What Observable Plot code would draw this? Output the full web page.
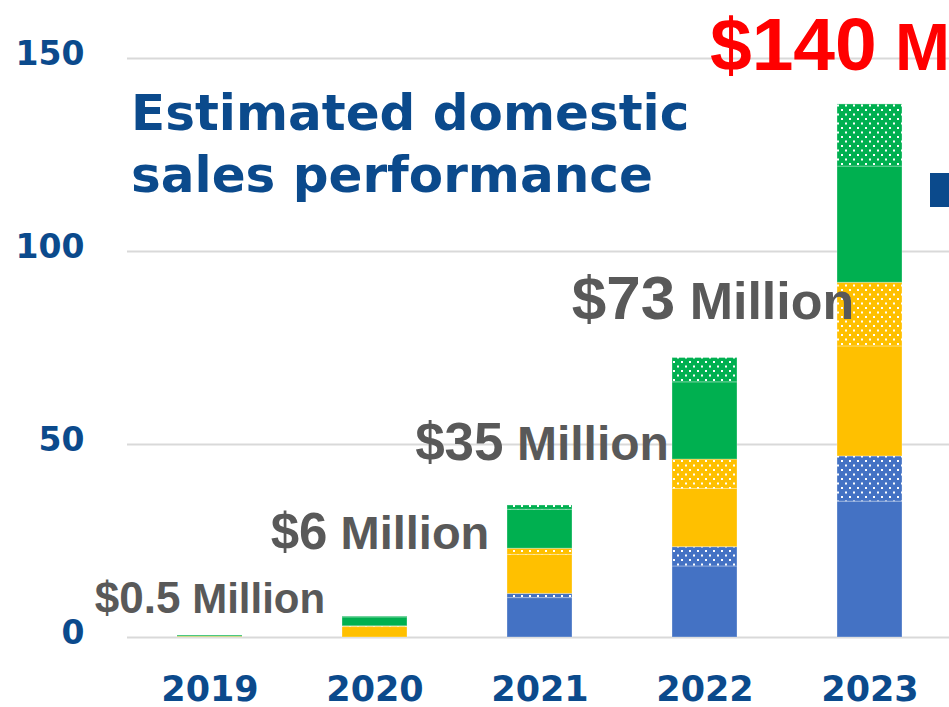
<!DOCTYPE html>
<html>
<head>
<meta charset="utf-8">
<script src="https://cdn.jsdelivr.net/npm/d3@7"></script>
<script src="https://cdn.jsdelivr.net/npm/@observablehq/plot@0.6"></script>
<style>
  html, body { margin: 0; padding: 0; background: #fff; overflow: hidden; }
  #wrap { position: relative; width: 949px; height: 707px; overflow: hidden; }
  #title { position: absolute; left: 131px; top: 82px; font-family: "DejaVu Sans", sans-serif; font-weight: bold; font-size: 50px; line-height: 62px; color: #0b4a8c; white-space: nowrap; pointer-events: none; }
  #marker { position: absolute; left: 930px; top: 173px; width: 24px; height: 34px; background: #0b4a8c; }
</style>
</head>
<body>
<div id="wrap">
  <div id="chart"></div>
  <div id="title">Estimated domestic<br>sales performance</div>
  <div id="marker"></div>
</div>
<script>
// ---- data ----
const years = ["2019", "2020", "2021", "2022", "2023"];
const blueSolid    = [0,   0,   10.2, 18.4, 35.2];
const blueDotted   = [0,   0,   1.1,  5.0,  11.7];
const yellowSolid  = [0.2, 2.7, 10.1, 15.1, 28.5];
const yellowDotted = [0,   0.2, 1.6,  7.6,  16.5];
const greenSolid   = [0.3, 2.3, 10.1, 20.0, 30.1];
const greenDotted  = [0,   0.2, 1.1,  6.3,  16.1];
const amounts = ["$0.5", "$6", "$35", "$73", "$140"];
const unitLabel = "Million";
const yTicks = [0, 50, 100, 150];

// ---- build table ----
const series = [
  {name: "blueSolid", values: blueSolid},
  {name: "blueDotted", values: blueDotted},
  {name: "yellowSolid", values: yellowSolid},
  {name: "yellowDotted", values: yellowDotted},
  {name: "greenSolid", values: greenSolid},
  {name: "greenDotted", values: greenDotted}
];
const rows = years.flatMap((y, i) => series.map(s => ({year: y, seg: s.name, value: s.values[i]})));
const totals = years.map((y, i) => ({year: y, total: d3.sum(series, s => s.values[i]), text: amounts[i] + " " + unitLabel}));

const fills = ["#4472c4", "url(#dotBlue)", "#ffc000", "url(#dotYellow)", "#00b050", "url(#dotGreen)"];

const chart = Plot.plot({
  width: 949,
  height: 707,
  marginLeft: 127,
  marginRight: 0,
  marginTop: 58,
  marginBottom: 70,
  style: {fontFamily: "DejaVu Sans, sans-serif", color: "#0b4a8c", background: "white"},
  x: {domain: years, range: [127.5, 952.5], paddingInner: 0.606, paddingOuter: 0.303},
  y: {domain: [0, 150], range: [637, 58]},
  color: {domain: series.map(s => s.name), range: fills},
  marks: [
    Plot.ruleY(yTicks, {stroke: "#d9d9d9", strokeWidth: 2}),
    Plot.barY(rows, {x: "year", y: "value", fill: "seg", stroke: "white", strokeOpacity: 0.3, strokeWidth: 1}),
    Plot.axisY({ticks: yTicks, tickSize: 0, tickPadding: 43, fontSize: 33, fontWeight: "bold", dy: -4, label: null, tickFormat: d => String(d)}),
    Plot.axisX({tickSize: 0, tickPadding: 39, fontSize: 35, fontWeight: "bold", label: null}),
    Plot.text(totals, {x: "year", y: "total", text: "text", textAnchor: "middle", lineAnchor: "bottom", fontFamily: "Liberation Sans, Arial, sans-serif", fontWeight: "bold"})
  ]
});

// pattern definitions for the dotted segments
const ns = "http://www.w3.org/2000/svg";
const defs = document.createElementNS(ns, "defs");
[["dotBlue", "#4472c4"], ["dotYellow", "#ffc000"], ["dotGreen", "#00b050"]].forEach(([id, c]) => {
  const p = document.createElementNS(ns, "pattern");
  p.setAttribute("id", id);
  p.setAttribute("patternUnits", "userSpaceOnUse");
  p.setAttribute("width", "8");
  p.setAttribute("height", "9");
  const bg = document.createElementNS(ns, "rect");
  bg.setAttribute("width", "8"); bg.setAttribute("height", "9"); bg.setAttribute("fill", c);
  p.appendChild(bg);
  [[1, 1], [5, 5.5]].forEach(([x, y]) => {
    const r = document.createElementNS(ns, "rect");
    r.setAttribute("x", x); r.setAttribute("y", y);
    r.setAttribute("width", "2"); r.setAttribute("height", "2");
    r.setAttribute("fill", "white");
    p.appendChild(r);
  });
  defs.appendChild(p);
});
chart.insertBefore(defs, chart.firstChild);

// style the value labels: larger amount, smaller unit
const labelStyle = [
  {a: 44, u: 42, dx: 0,  dy: -23, fill: "#595959"},
  {a: 51, u: 47, dx: 5,  dy: -68, fill: "#595959"},
  {a: 53, u: 48, dx: 2,  dy: -45, fill: "#595959"},
  {a: 62, u: 52, dx: 8,  dy: -39, fill: "#595959"},
  {a: 75, u: 66, dx: 37, dy: -34, fill: "#ff0000"}
];
const texts = chart.querySelectorAll('g[aria-label="text"] text');
texts.forEach((t, i) => {
  const st = labelStyle[i];
  t.textContent = "";
  const t1 = document.createElementNS(ns, "tspan");
  t1.setAttribute("font-size", st.a);
  t1.textContent = amounts[i];
  const t2 = document.createElementNS(ns, "tspan");
  t2.setAttribute("font-size", st.u);
  t2.textContent = " " + unitLabel;
  t.appendChild(t1); t.appendChild(t2);
  t.setAttribute("dx", st.dx);
  t.setAttribute("dy", st.dy);
  t.setAttribute("fill", st.fill);
});

document.getElementById("chart").appendChild(chart);
</script>
</body>
</html>
